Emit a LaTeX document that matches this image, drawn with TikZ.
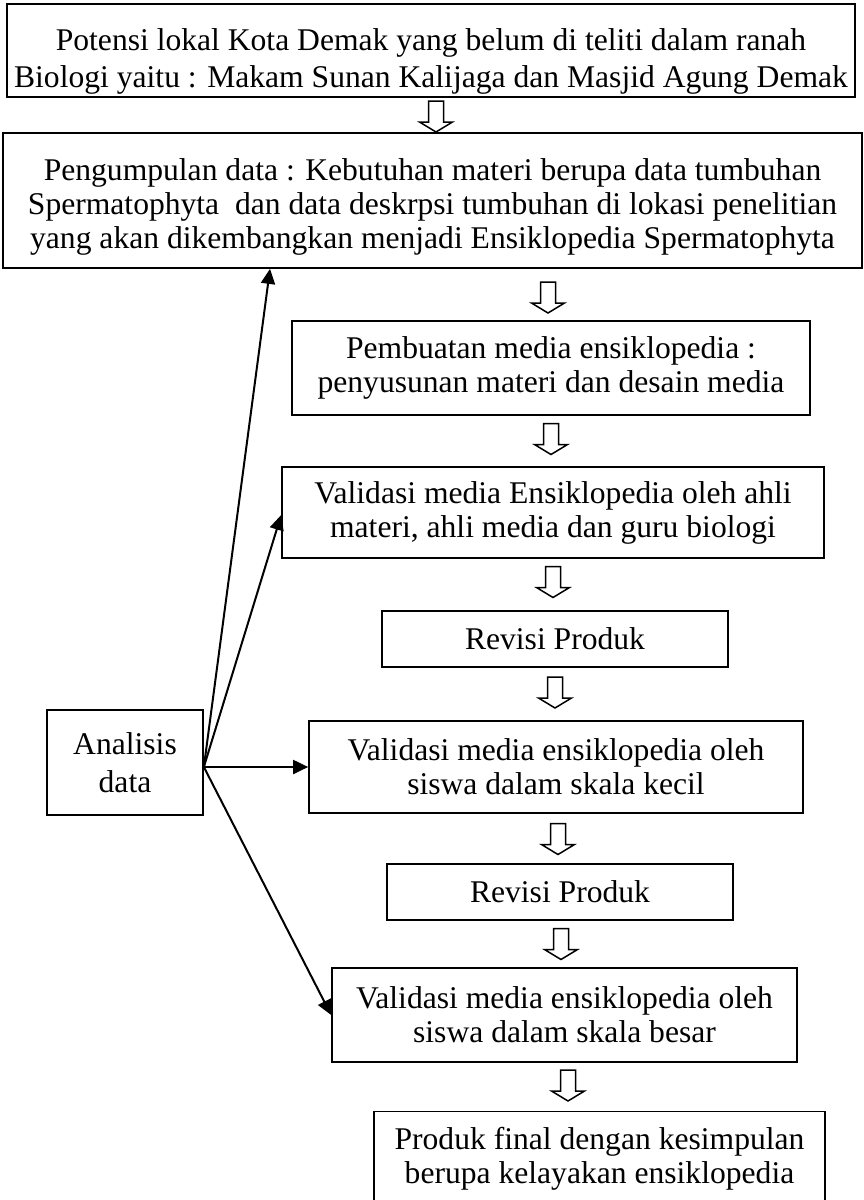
\documentclass[tikz,border=0pt]{standalone}
\usepackage{fontspec}
\setmainfont{Liberation Serif}
\usetikzlibrary{arrows.meta}
\begin{document}
\begin{tikzpicture}[x=0.5pt,y=-0.5pt,
  box/.style={draw,line width=0.85pt,rectangle,inner sep=0pt,align=center,font=\fontsize{15.8}{17}\selectfont},
  hollowdown/.pic={\draw[line width=0.75pt,fill=white] (-7.5,-15.5) -- (7.5,-15.5) -- (7.5,5.5) -- (16.5,5.5) -- (0,15.5) -- (-16.5,5.5) -- (-7.5,5.5) -- cycle;},
  link/.style={line width=1pt,-{Triangle[length=7.5pt,width=7pt]}}]
\fill[white] (0,0) rectangle (863,1200);
\useasboundingbox (0,0) rectangle (863,1200);

\node[box,minimum width=424pt,minimum height=46.5pt,font=\fontsize{15.8}{18.5}\selectfont] (b1) at (431,50.5)
  {\rule{0pt}{22pt}Potensi lokal Kota Demak yang belum di teliti dalam ranah\\Biologi yaitu : Makam Sunan Kalijaga dan Masjid Agung Demak};
\node[box,minimum width=429.5pt,minimum height=67.5pt] (b2) at (432.5,200.5)
  {\rule{0pt}{17pt}Pengumpulan data : Kebutuhan materi berupa data tumbuhan\\Spermatophyta\ \ dan data deskrpsi tumbuhan di lokasi penelitian\\yang akan dikembangkan menjadi Ensiklopedia Spermatophyta};
\node[box,minimum width=259pt,minimum height=47pt] (b3) at (551,368)
  {Pembuatan media ensiklopedia :\\penyusunan materi dan desain media};
\node[box,minimum width=271pt,minimum height=45.5pt] (b4) at (553,512.5)
  {Validasi media Ensiklopedia oleh ahli\\materi, ahli media dan guru biologi};
\node[box,minimum width=173pt,minimum height=28pt] (b5) at (555,639) {Revisi Produk};
\node[box,minimum width=247pt,minimum height=46pt] (b6) at (556,767)
  {Validasi media ensiklopedia oleh\\siswa dalam skala kecil};
\node[box,minimum width=173pt,minimum height=28pt] (b7) at (560,892) {Revisi Produk};
\node[box,minimum width=232.5pt,minimum height=47pt] (b8) at (564.5,1015)
  {Validasi media ensiklopedia oleh\\siswa dalam skala besar};
\node[box,minimum width=225.5pt,minimum height=47pt] (b9) at (599.5,1158.5)
  {Produk final dengan kesimpulan\\berupa kelayakan ensiklopedia};
\node[box,minimum width=78pt,minimum height=52.5pt,font=\fontsize{15.8}{19}\selectfont] (an) at (125,762.5)
  {Analisis\\data};

\pic (a1) at (436,116.5) {hollowdown};
\pic (a2) at (548,297.5) {hollowdown};
\pic (a3) at (551,439) {hollowdown};
\pic (a4) at (553,582) {hollowdown};
\pic (a5) at (555,692.5) {hollowdown};
\pic (a6) at (558,839) {hollowdown};
\pic (a7) at (561,944) {hollowdown};
\pic (a8) at (568,1085.5) {hollowdown};

\draw[link] ([yshift=-2.25pt]an.east) -- ([xshift=-81.25pt]b2.south);
\draw[link] ([yshift=-2.25pt]an.east) -- ([yshift=-1.25pt]b4.west);
\draw[link] ([yshift=-2.25pt]an.east) -- (b6.west);
\draw[link] ([yshift=-2.25pt]an.east) -- (b8.west);
\end{tikzpicture}
\end{document}
